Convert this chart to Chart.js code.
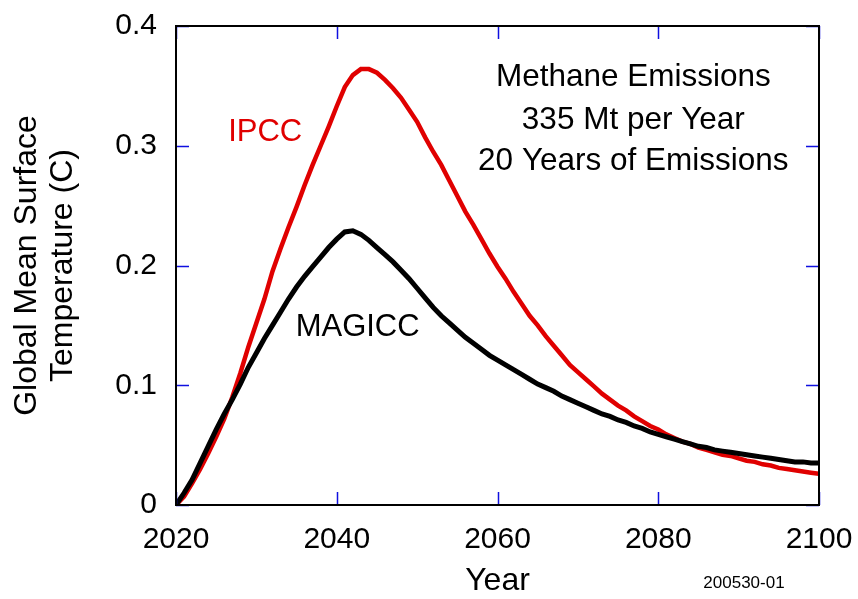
<!DOCTYPE html>
<html>
<head>
<meta charset="utf-8">
<script src="https://cdn.jsdelivr.net/npm/chart.js@4"></script>
<style>
  html, body { margin: 0; padding: 0; background: #ffffff; }
  #wrap { width: 858px; height: 599px; }
</style>
</head>
<body>
<div id="wrap"><canvas id="c" width="858" height="599"></canvas></div>
<script>
const years = [
  2020,2021,2022,2023,2024,2025,2026,2027,2028,2029,
  2030,2031,2032,2033,2034,2035,2036,2037,2038,2039,
  2040,2041,2042,2043,2044,2045,2046,2047,2048,2049,
  2050,2051,2052,2053,2054,2055,2056,2057,2058,2059,
  2060,2061,2062,2063,2064,2065,2066,2067,2068,2069,
  2070,2071,2072,2073,2074,2075,2076,2077,2078,2079,
  2080,2081,2082,2083,2084,2085,2086,2087,2088,2089,
  2090,2091,2092,2093,2094,2095,2096,2097,2098,2099,
  2100
];
const ipcc = [
  0.000,0.007,0.018,0.030,0.043,0.057,0.072,0.090,0.110,0.132,
  0.152,0.172,0.195,0.214,0.232,0.249,0.267,0.284,0.300,0.316,
  0.333,0.349,0.359,0.364,0.364,0.361,0.355,0.348,0.340,0.330,
  0.320,0.307,0.295,0.284,0.271,0.258,0.245,0.234,0.222,0.210,
  0.199,0.189,0.178,0.168,0.158,0.150,0.141,0.133,0.125,0.117,
  0.111,0.105,0.099,0.093,0.088,0.083,0.079,0.074,0.070,0.066,
  0.063,0.059,0.056,0.053,0.051,0.048,0.046,0.044,0.042,0.041,
  0.039,0.037,0.036,0.034,0.033,0.031,0.030,0.029,0.028,0.027,
  0.026
];
const magicc = [
  0.000,0.010,0.021,0.035,0.049,0.063,0.076,0.088,0.101,0.115,
  0.127,0.139,0.150,0.161,0.172,0.182,0.191,0.199,0.207,0.215,
  0.222,0.228,0.229,0.226,0.221,0.215,0.209,0.203,0.196,0.189,
  0.181,0.173,0.165,0.158,0.152,0.146,0.140,0.135,0.130,0.125,
  0.121,0.117,0.113,0.109,0.105,0.101,0.098,0.095,0.091,0.088,
  0.085,0.082,0.079,0.076,0.074,0.071,0.069,0.066,0.064,0.061,
  0.059,0.057,0.055,0.053,0.051,0.049,0.048,0.046,0.045,0.044,
  0.043,0.042,0.041,0.040,0.039,0.038,0.037,0.036,0.036,0.035,
  0.035
];
const xTicks = [2020, 2040, 2060, 2080, 2100];
const yTicks = [0, 0.1, 0.2, 0.3, 0.4];
const yTickLabels = ['0', '0.1', '0.2', '0.3', '0.4'];
const xTitle = 'Year';
const yTitle = ['Global Mean Surface', 'Temperature (C)'];
const boxText = ['Methane Emissions', '335 Mt per Year', '20 Years of Emissions'];
const seriesNames = ['MAGICC', 'IPCC'];
const stamp = '200530-01';

const FONT = '"Liberation Sans", Arial, Helvetica, sans-serif';
const RED = '#e00000';

const toXY = (xs, ys) => xs.map((x, i) => ({x: x, y: ys[i]}));

const overlay = {
  id: 'overlay',
  afterDraw(chart) {
    const ctx = chart.ctx;
    const a = chart.chartArea;
    const xs = chart.scales.x, ys = chart.scales.y;
    ctx.save();
    // inward blue ticks on all four sides
    ctx.strokeStyle = '#1010e0';
    ctx.lineWidth = 1.5;
    const tl = 13;
    xTicks.forEach(v => {
      const px = Math.round(xs.getPixelForValue(v)) + 0.5;
      ctx.beginPath();
      ctx.moveTo(px, a.bottom); ctx.lineTo(px, a.bottom - tl);
      ctx.moveTo(px, a.top); ctx.lineTo(px, a.top + tl);
      ctx.stroke();
    });
    yTicks.forEach(v => {
      const py = Math.round(ys.getPixelForValue(v)) + 0.5;
      ctx.beginPath();
      ctx.moveTo(a.left, py); ctx.lineTo(a.left + tl, py);
      ctx.moveTo(a.right, py); ctx.lineTo(a.right - tl, py);
      ctx.stroke();
    });
    // black frame
    ctx.strokeStyle = '#000000';
    ctx.lineWidth = 2;
    ctx.strokeRect(a.left, a.top, a.right - a.left, a.bottom - a.top);

    // annotations
    ctx.textAlign = 'center';
    ctx.textBaseline = 'middle';
    ctx.font = '31px ' + FONT;
    ctx.fillStyle = RED;
    ctx.fillText(seriesNames[1], xs.getPixelForValue(2031.1), ys.getPixelForValue(0.311));
    ctx.fillStyle = '#000000';
    ctx.fillText(seriesNames[0], xs.getPixelForValue(2042.6), ys.getPixelForValue(0.148));
    ctx.font = '31.5px ' + FONT;
    const bx = xs.getPixelForValue(2076.9);
    const by = [0.357, 0.321, 0.287];
    boxText.forEach((t, i) => ctx.fillText(t, bx, ys.getPixelForValue(by[i])));
    ctx.font = '17px ' + FONT;
    ctx.fillText(stamp, 744, 583);
    ctx.restore();
  }
};

function noPad(s) { s.paddingTop = 0; s.paddingBottom = 0; s.paddingLeft = 0; s.paddingRight = 0; }

new Chart(document.getElementById('c'), {
  type: 'line',
  data: {
    datasets: [
      { label: seriesNames[0], data: toXY(years, magicc), borderColor: '#000000', borderWidth: 5, pointRadius: 0, tension: 0, fill: false },
      { label: seriesNames[1], data: toXY(years, ipcc), borderColor: RED, borderWidth: 4.5, pointRadius: 0, tension: 0, fill: false }
    ]
  },
  options: {
    responsive: false,
    animation: false,
    layout: { padding: { left: 0, right: 39, top: 26, bottom: 0 } },
    plugins: { legend: { display: false }, tooltip: { enabled: false } },
    scales: {
      x: {
        type: 'linear', min: 2020, max: 2100,
        afterFit: s => { s.height = 94; noPad(s); },
        afterBuildTicks: s => { s.ticks = xTicks.map(v => ({value: v})); },
        grid: { display: false, drawTicks: false },
        border: { display: false },
        ticks: { padding: 17, color: '#000000', font: { family: FONT, size: 30, lineHeight: 1.2 }, maxRotation: 0, autoSkip: false,
                 callback: v => String(v) },
        title: { display: true, text: xTitle, color: '#000000', padding: { top: 0, bottom: 0 }, font: { family: FONT, size: 32, lineHeight: 1.125 } }
      },
      y: {
        type: 'linear', min: 0, max: 0.4,
        afterFit: s => { s.width = 176; noPad(s); },
        afterBuildTicks: s => { s.ticks = yTicks.map(v => ({value: v})); },
        grid: { display: false, drawTicks: false },
        border: { display: false },
        ticks: { padding: 19, color: '#000000', font: { family: FONT, size: 30, lineHeight: 1.2 }, autoSkip: false,
                 callback: (v, i) => yTickLabels[i] },
        title: { display: true, text: yTitle, color: '#000000', padding: { top: 9, bottom: 0 }, font: { family: FONT, size: 32, lineHeight: 1.125 } }
      }
    }
  },
  plugins: [overlay]
});
</script>
</body>
</html>
